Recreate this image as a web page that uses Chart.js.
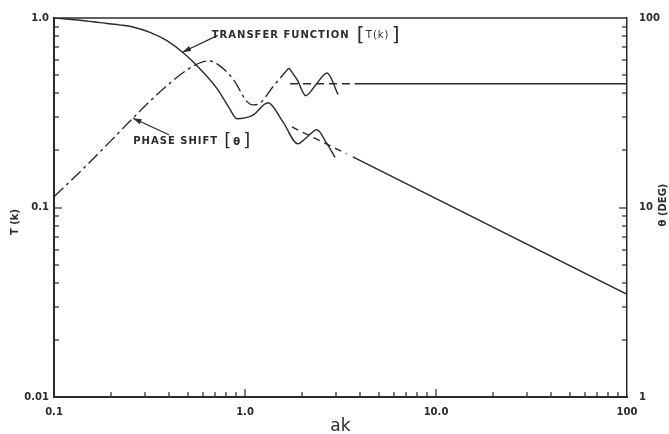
<!DOCTYPE html>
<html>
<head>
<meta charset="utf-8">
<script src="https://cdn.jsdelivr.net/npm/chart.js@4.4.0/dist/chart.umd.min.js"></script>
<style>
html, body { margin: 0; padding: 0; background: #fff; }
</style>
</head>
<body>
<canvas id="canvas" width="669" height="434"></canvas>
<script>
// transfer function T(k), left axis
var tAk  = [0.1, 0.14, 0.174, 0.22, 0.259, 0.318, 0.39, 0.48, 0.58, 0.714, 0.82, 0.908, 1.0, 1.1, 1.32, 1.58, 1.89, 2.1, 2.38, 2.65, 2.96];
var tVal = [1.0, 0.97, 0.945, 0.92, 0.897, 0.84, 0.76, 0.65, 0.54, 0.424, 0.34, 0.294, 0.297, 0.307, 0.357, 0.283, 0.217, 0.234, 0.257, 0.222, 0.184];
// asymptote of T(k)
var tAsDashAk  = [1.76, 3.4];
var tAsDashVal = [0.266, 0.192];
var tAsAk  = [3.67, 100];
var tAsVal = [0.185, 0.0348];

// phase shift (deg), right axis
var phAk  = [0.1, 0.142, 0.196, 0.259, 0.359, 0.497, 0.6, 0.65, 0.714, 0.865, 1.025, 1.1, 1.18, 1.4, 1.7];
var phVal = [11.4, 16.0, 22.2, 29.6, 40.8, 53.2, 58.7, 59.3, 57.3, 47.7, 36.2, 34.8, 35.2, 43.4, 54.6];
var phOscAk  = [1.7, 1.88, 2.08, 2.37, 2.69, 3.07];
var phOscVal = [54.6, 47, 38.9, 45, 51.3, 39.4];
var phAsDashAk  = [1.72, 3.6];
var phAsDashVal = [45, 45];
var phAsAk  = [3.75, 100];
var phAsVal = [45, 45];

// ticks
var xTicks = [0.1, 1, 10, 100];
var xTickLabels = ['0.1', '1.0', '10.0', '100'];
var yTicks = [0.01, 0.1, 1];
var yTickLabels = ['0.01', '0.1', '1.0'];
var y2Ticks = [1, 10, 100];
var y2TickLabels = ['1', '10', '100'];

var ink = '#2b2b2b';

function pts(xs, ys) {
    return xs.map(function (x, i) { return { x: x, y: ys[i] }; });
}

function line(data, axis, dash, smooth) {
    return {
        data: data,
        yAxisID: axis,
        borderColor: ink,
        borderWidth: 1.4,
        borderDash: dash || [],
        pointRadius: 0,
        fill: false,
        cubicInterpolationMode: smooth ? 'monotone' : 'default',
        tension: 0
    };
}

function fixTicks(vals, labels) {
    return {
        afterBuildTicks: function (scale) {
            scale.ticks = vals.map(function (v) { return { value: v }; });
        },
        callback: function (value) {
            var i = vals.indexOf(value);
            return i >= 0 ? labels[i] : '';
        }
    };
}

var xT = fixTicks(xTicks, xTickLabels);
var yT = fixTicks(yTicks, yTickLabels);
var y2T = fixTicks(y2Ticks, y2TickLabels);

var tickFont = { family: 'DejaVu Sans', size: 10, weight: 'bold' };

function arrow(ctx, x1, y1, x2, y2) {
    ctx.beginPath();
    ctx.moveTo(x1, y1);
    ctx.lineTo(x2, y2);
    ctx.stroke();
    var a = Math.atan2(y2 - y1, x2 - x1);
    ctx.beginPath();
    ctx.moveTo(x2, y2);
    ctx.lineTo(x2 - 9 * Math.cos(a - 0.3), y2 - 9 * Math.sin(a - 0.3));
    ctx.lineTo(x2 - 9 * Math.cos(a + 0.3), y2 - 9 * Math.sin(a + 0.3));
    ctx.closePath();
    ctx.fill();
}

var extras = {
    id: 'extras',
    afterDraw: function (chart) {
        var ctx = chart.ctx, ca = chart.chartArea;
        var sx = chart.scales.x, sy = chart.scales.y, sy2 = chart.scales.y2;
        ctx.save();
        ctx.strokeStyle = ink;
        ctx.fillStyle = ink;

        // top frame line
        ctx.lineWidth = 1.5;
        ctx.beginPath();
        ctx.moveTo(ca.left, ca.top);
        ctx.lineTo(ca.right, ca.top);
        ctx.stroke();

        // inward ticks
        [0.1, 1, 10].forEach(function (d) {
            for (var m = 1; m <= 9; m++) {
                var px = Math.round(sx.getPixelForValue(d * m));
                var len = m === 1 ? 8 : 5;
                ctx.fillRect(px - 0.6, ca.bottom - len, 1.2, len);
            }
        });
        [0.01, 0.1].forEach(function (d) {
            for (var m = 1; m <= 9; m++) {
                var py = Math.round(sy.getPixelForValue(d * m));
                var len = m === 1 ? 8 : 5;
                ctx.fillRect(ca.left, py - 0.6, len, 1.2);
            }
        });
        [1, 10].forEach(function (d) {
            for (var m = 1; m <= 9; m++) {
                var py = Math.round(sy2.getPixelForValue(d * m));
                var len = m === 1 ? 8 : 5;
                ctx.fillRect(ca.right - len, py - 0.6, len, 1.2);
            }
        });

        // vertical axis titles, reading upward
        ctx.font = 'bold 10px "DejaVu Sans"';
        ctx.textAlign = 'center';
        ctx.textBaseline = 'middle';
        ctx.save();
        ctx.translate(15, 222);
        ctx.rotate(-Math.PI / 2);
        ctx.fillText('T (k)', 0, 0);
        ctx.restore();
        ctx.save();
        ctx.translate(663, 205);
        ctx.rotate(-Math.PI / 2);
        ctx.fillText('\u03b8 (DEG)', 0, 0);
        ctx.restore();

        // curve labels
        ctx.textAlign = 'left';
        ctx.letterSpacing = '1px';
        ctx.font = 'bold 10px "DejaVu Sans"';
        var lx = sx.getPixelForValue(0.67), ly = sy.getPixelForValue(0.81);
        ctx.fillText('TRANSFER FUNCTION', lx, ly);
        ctx.font = '20px "DejaVu Sans"';
        ctx.fillText('[', lx + 145, ly);
        ctx.fillText(']', lx + 180, ly);
        ctx.font = '10px "DejaVu Sans"';
        ctx.fillText('T(k)', lx + 154, ly);

        ctx.font = 'bold 10px "DejaVu Sans"';
        var px2 = sx.getPixelForValue(0.26), py2 = sy2.getPixelForValue(22.3);
        ctx.fillText('PHASE SHIFT', px2, py2);
        ctx.font = '18px "DejaVu Sans"';
        ctx.fillText('[', px2 + 91, py2);
        ctx.fillText(']', px2 + 110, py2);
        ctx.font = 'bold 10px "DejaVu Sans"';
        ctx.fillText('\u03b8', px2 + 100, py2 + 1);
        ctx.letterSpacing = '0px';

        // arrows
        ctx.lineWidth = 1.2;
        arrow(ctx, lx + 6, ly, sx.getPixelForValue(0.47), sy.getPixelForValue(0.66));
        arrow(ctx, sx.getPixelForValue(0.40), sy2.getPixelForValue(24.2),
              sx.getPixelForValue(0.259), sy2.getPixelForValue(29.6));

        ctx.restore();
    }
};

window.onload = function () {
    var ctx = document.getElementById('canvas').getContext('2d');
    window.myLine = new Chart(ctx, {
        type: 'line',
        data: {
            datasets: [
                line(pts(tAk, tVal), 'y', [], true),
                line(pts(tAsDashAk, tAsDashVal), 'y', [7, 5], false),
                line(pts(tAsAk, tAsVal), 'y', [], false),
                line(pts(phAk, phVal), 'y2', [13, 4, 3, 4], true),
                line(pts(phOscAk, phOscVal), 'y2', [], true),
                line(pts(phAsDashAk, phAsDashVal), 'y2', [8, 5], false),
                line(pts(phAsAk, phAsVal), 'y2', [], false)
            ]
        },
        options: {
            responsive: false,
            animation: false,
            layout: { padding: { top: 16, left: 0, right: 0, bottom: 0 } },
            plugins: { legend: { display: false }, tooltip: { enabled: false } },
            scales: {
                x: {
                    type: 'logarithmic',
                    min: 0.1, max: 100,
                    afterBuildTicks: xT.afterBuildTicks,
                    afterFit: function (s) { s.height = 37; },
                    grid: { display: false, drawTicks: false },
                    border: { display: true, color: ink, width: 2 },
                    ticks: { callback: xT.callback, autoSkip: false, maxRotation: 0, padding: 9, color: ink, font: tickFont },
                    title: { display: true, text: 'ak', color: ink, padding: { top: 0, bottom: -3 }, font: { family: 'DejaVu Sans', size: 17 } }
                },
                y: {
                    type: 'logarithmic',
                    position: 'left',
                    min: 0.01, max: 1,
                    afterBuildTicks: yT.afterBuildTicks,
                    afterFit: function (s) { s.width = 54; },
                    grid: { display: false, drawTicks: false },
                    border: { display: true, color: ink, width: 2 },
                    ticks: { callback: yT.callback, autoSkip: false, padding: 5, color: ink, font: tickFont }
                },
                y2: {
                    type: 'logarithmic',
                    position: 'right',
                    min: 1, max: 100,
                    afterBuildTicks: y2T.afterBuildTicks,
                    afterFit: function (s) { s.width = 42; },
                    grid: { display: false, drawTicks: false },
                    border: { display: true, color: ink, width: 1.5 },
                    ticks: { callback: y2T.callback, autoSkip: false, padding: 12, color: ink, font: tickFont }
                }
            }
        },
        plugins: [extras]
    });
};
</script>
</body>
</html>
